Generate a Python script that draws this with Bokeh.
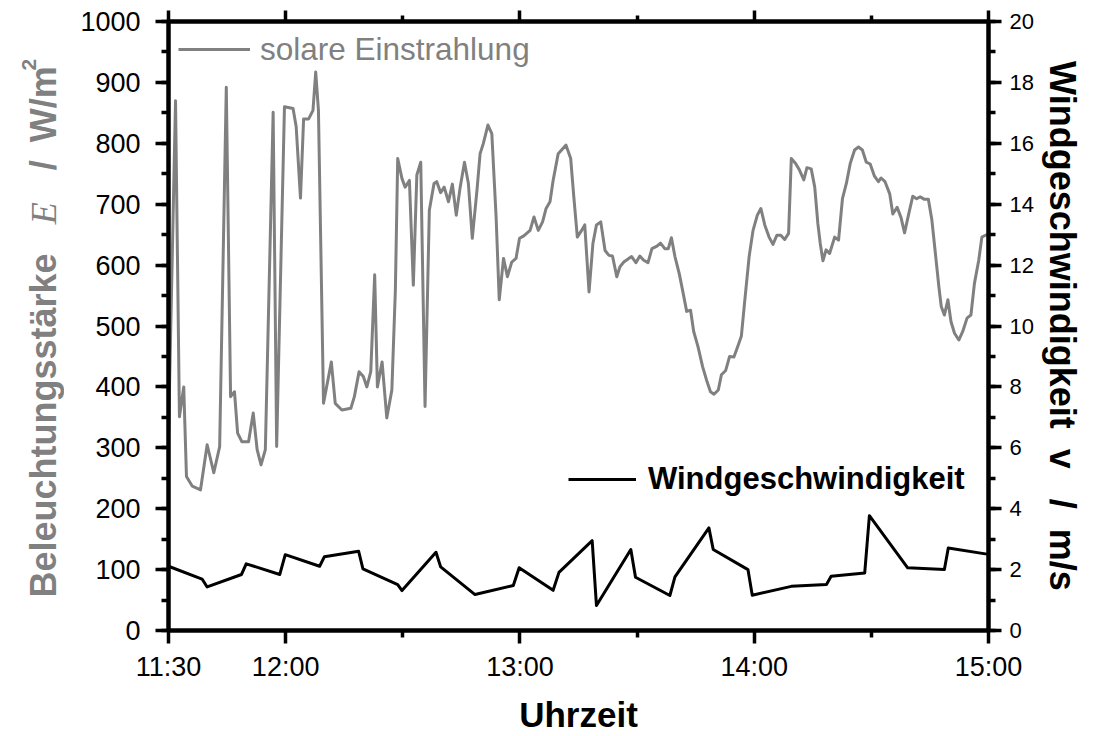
import math
from bokeh.plotting import figure
from bokeh.layouts import row
from bokeh.models import (Range1d, LinearAxis, FixedTicker, SingleIntervalTicker,
                          Legend, LegendItem)
from bokeh.core.properties import value
from bokeh.embed import file_html
from bokeh.resources import INLINE

# ---------------- data ----------------
# minutes after 11:30
solar_minutes = [0, 1.8, 2.8, 3.9, 4.6, 6.1, 8.2, 9.9, 11.6, 13.1, 14.8, 15.9, 16.9, 17.7,
                 18.8, 20.5, 21.7, 22.7, 23.7, 24.8, 26.8, 27.7, 29.7, 31.9, 32.7, 33.8,
                 34.6, 35.9, 37.0, 37.7, 38.4, 39.7, 41.7, 42.7, 44.4, 46.7, 47.6, 48.8,
                 49.9, 50.8, 51.8, 52.8, 53.5, 54.7, 55.9, 57.2, 58.1, 58.7, 59.8, 60.6,
                 61.7, 62.7, 63.6, 64.6, 65.7, 66.8, 68.0, 68.7, 69.7, 70.6, 71.7, 72.7,
                 73.7, 74.7, 75.8, 76.8, 77.8, 79.0, 79.8, 80.6, 81.8, 82.8, 83.9, 84.7,
                 85.8, 86.8, 87.9, 89.0, 89.9, 91.0, 92.6, 93.6, 94.7, 95.8, 96.7, 97.7,
                 98.5, 99.8, 101.8, 103.0, 103.8, 104.7, 105.8, 106.6, 107.7, 108.7, 109.6,
                 110.7, 111.8, 112.8, 113.7, 114.8, 115.6, 116.6, 118.6, 119.7, 120.7,
                 121.7, 122.8, 123.8, 125.1, 126.0, 127.1, 128.0, 128.8, 129.7, 130.8,
                 131.8, 132.7, 133.7, 134.5, 135.6, 136.8, 137.8, 138.8, 139.7, 140.8,
                 141.6, 142.7, 143.7, 144.8, 145.6, 146.7, 147.6, 148.7, 149.7, 150.8,
                 151.7, 152.7, 153.8, 154.8, 155.8, 156.8, 157.8, 158.8, 159.5, 160.6,
                 161.6, 162.7, 163.5, 164.6, 165.5, 166.3, 166.9, 167.6, 168.4, 169.3,
                 170.6, 171.6, 172.6, 173.6, 174.6, 175.7, 176.7, 177.7, 178.7, 179.7,
                 180.8, 181.8, 182.5, 183.5, 184.7, 185.5, 186.6, 187.6, 188.5, 189.5,
                 190.6, 191.6, 192.5, 193.6, 194.6, 195.5, 196.4, 197.3, 197.9, 198.7,
                 199.6, 200.4, 201.3, 202.4, 203.4, 204.5, 205.5, 206.4, 207.5, 208.3,
                 209.2, 210.0]
solar_values = [320, 870, 351, 400, 253, 237, 231, 305, 259, 302, 892, 384, 392, 324,
                310, 310, 357, 297, 272, 297, 851, 302, 860, 857, 827, 710,
                840, 840, 854, 917, 854, 373, 441, 373, 362, 365, 384, 425,
                417, 400, 425, 584, 400, 441, 349, 395, 559, 775, 742, 728,
                739, 567, 748, 769, 368, 690, 734, 737, 719, 728, 704, 733,
                682, 728, 769, 734, 644, 723, 783, 799, 830, 816, 679, 543,
                611, 581, 605, 611, 644, 648, 657, 679, 657, 671, 693, 704,
                739, 783, 797, 775, 712, 646, 657, 666, 556, 636, 666,
                671, 624, 616, 615, 581, 597, 605, 614, 604, 615,
                608, 604, 627, 631, 636, 627, 627, 645, 614, 586,
                554, 524, 526, 491, 466, 433, 411, 392, 388, 395,
                420, 427, 450, 449, 463, 483, 543, 614, 657, 682,
                693, 666, 646, 634, 649, 649, 642, 652, 775, 767,
                756, 740, 760, 758, 728, 668, 636, 607, 625, 619,
                646, 641, 709, 734, 767, 789, 794, 789, 769, 766,
                746, 737, 743, 737, 717, 684, 695, 678, 653, 682,
                713, 709, 712, 708, 708, 674, 619, 564, 532, 518,
                543, 507, 488, 477, 491, 513, 518, 570, 608, 646,
                649, 650]

wind_minutes = [0, 8.6, 9.9, 18.7, 19.9, 28.5, 29.9, 38.7, 39.9, 48.7, 49.8, 58.7, 59.8,
                68.5, 69.7, 78.5, 88.3, 89.8, 98.5, 100.0, 108.5, 109.6, 118.4, 119.6,
                128.4, 129.7, 138.4, 139.5, 148.4, 149.5, 159.5, 168.5, 169.7, 178.3,
                179.5, 189.3, 198.7, 199.7, 210.0]
wind_values = [2.11, 1.69, 1.43, 1.84, 2.19, 1.84, 2.49, 2.11, 2.42, 2.60, 2.02, 1.51, 1.31,
               2.57, 2.09, 1.18, 1.48, 2.06, 1.32, 1.91, 2.95, 0.82, 2.66, 1.75,
               1.15, 1.76, 3.37, 2.66, 2.00, 1.16, 1.45, 1.51, 1.78, 1.89,
               3.77, 2.06, 2.00, 2.71, 2.50]

time_tick_minutes = [0, 30, 90, 150, 210]
time_tick_labels = ["11:30", "12:00", "13:00", "14:00", "15:00"]
time_minor_minutes = [60, 120, 180]

# left axis title pieces (mixed styles)
title_pieces = ["Beleuchtungsstärke", "E", "/", "W/m", "2"]

# ---------------- styling ----------------
GREY = "#808080"
FONT = "Liberation Sans"
H = 736
LEFT_W = 64
MAIN_W = 1035
FRAME_TOP = 21
FRAME_BOTTOM = 631

# ---- narrow figure that only carries the left axis title ----
# its frame is aligned with the main frame (rows align frames), so the
# y range maps 0 -> frame bottom, (FRAME_BOTTOM-FRAME_TOP) -> frame top
t = figure(width=LEFT_W, height=H, output_backend="svg", toolbar_location=None,
           x_range=Range1d(0, LEFT_W), y_range=Range1d(0, FRAME_BOTTOM - FRAME_TOP),
           x_axis_location=None, y_axis_location=None,
           min_border_left=0, min_border_right=0,
           min_border_top=FRAME_TOP, min_border_bottom=H - FRAME_BOTTOM)
t.outline_line_color = None
t.background_fill_color = "white"
t.border_fill_color = "white"
for g in t.grid:
    g.visible = False

# (x center, start position measured from page top, font, style, size)
piece_layout = [
    (43, 598, FONT, "bold", "36px"),
    (43, 224, "Liberation Serif", "italic", "36px"),
    (43, 170, FONT, "bold", "36px"),
    (43, 142, FONT, "bold", "36px"),
    (28, 70, FONT, "bold", "21px"),
]
for txt, (cx, top_y, fnt, sty, size) in zip(title_pieces, piece_layout):
    t.text(x=[cx], y=[FRAME_BOTTOM - top_y], text=[txt], angle=math.pi / 2,
           text_align="left", text_baseline="middle",
           text_font=value(fnt), text_font_style=sty,
           text_font_size=value(size), text_color=GREY)

# ---- main figure ----
p = figure(width=MAIN_W, height=H, output_backend="svg", toolbar_location=None,
           x_range=Range1d(0, 210), y_range=Range1d(0, 1000),
           x_axis_location=None, y_axis_location=None,
           min_border_left=168 - LEFT_W, min_border_right=MAIN_W - (988 - LEFT_W),
           min_border_top=FRAME_TOP, min_border_bottom=H - FRAME_BOTTOM)
p.extra_y_ranges = {"wind": Range1d(0, 20)}
p.outline_line_color = None
p.background_fill_color = "white"
p.border_fill_color = "white"
for g in p.grid:
    g.visible = False

grey_line = p.line(solar_minutes, solar_values, line_color=GREY, line_width=3,
                   line_join="round")
wind_line = p.line(wind_minutes, wind_values, line_color="black", line_width=3,
                   line_join="round", y_range_name="wind")


def style_axis(ax, size):
    ax.axis_line_width = 4.5
    ax.axis_line_color = "black"
    ax.major_tick_line_width = 3.5
    ax.minor_tick_line_width = 3.5
    ax.major_tick_line_color = "black"
    ax.minor_tick_line_color = "black"
    ax.major_tick_in = 0
    ax.major_tick_out = 13
    ax.minor_tick_in = 0
    ax.minor_tick_out = 7
    ax.major_label_text_font = FONT
    ax.major_label_text_font_size = size
    ax.major_label_text_color = "black"


time_ticker = FixedTicker(ticks=time_tick_minutes, minor_ticks=time_minor_minutes)

xb = LinearAxis(ticker=time_ticker,
                major_label_overrides=dict(zip(time_tick_minutes, time_tick_labels)),
                axis_label="Uhrzeit")
style_axis(xb, "27px")
xb.major_label_standoff = 8
xb.axis_label_text_font = FONT
xb.axis_label_text_font_style = "bold"
xb.axis_label_text_font_size = "35px"
xb.axis_label_text_color = "black"
xb.axis_label_standoff = 10
p.add_layout(xb, "below")

xt = LinearAxis(ticker=time_ticker,
                major_label_overrides={m: "" for m in time_tick_minutes})
style_axis(xt, "1px")
xt.major_tick_out = 11
xt.minor_tick_out = 6
xt.major_label_standoff = 0
p.add_layout(xt, "above")

yl = LinearAxis(ticker=SingleIntervalTicker(interval=100, num_minor_ticks=2))
style_axis(yl, "27px")
yl.major_label_standoff = 15
p.add_layout(yl, "left")

yr = LinearAxis(y_range_name="wind",
                ticker=SingleIntervalTicker(interval=2, num_minor_ticks=2),
                axis_label="Windgeschwindigkeit\u00a0\u00a0v\u00a0\u00a0\u00a0/\u00a0\u00a0m/s")
style_axis(yr, "22px")
yr.major_label_standoff = 8
yr.axis_label_text_font = FONT
yr.axis_label_text_font_style = "bold"
yr.axis_label_text_font_size = "36px"
yr.axis_label_text_color = "black"
yr.axis_label_standoff = 5
p.add_layout(yr, "right")

# legends
leg1 = Legend(items=[LegendItem(label="solare Einstrahlung", renderers=[grey_line])],
              location=(10, 562), padding=0, margin=0, spacing=0,
              glyph_width=72, glyph_height=38, label_height=38, label_standoff=10,
              label_text_font=FONT, label_text_font_size="31.5px",
              label_text_color=GREY, background_fill_alpha=0, border_line_color=None)
leg2 = Legend(items=[LegendItem(label="Windgeschwindigkeit", renderers=[wind_line])],
              location=(400, 132), padding=0, margin=0, spacing=0,
              glyph_width=68, glyph_height=38, label_height=38, label_standoff=12,
              label_text_font=FONT, label_text_font_size="31px",
              label_text_font_style="bold",
              label_text_color="black", background_fill_alpha=0, border_line_color=None)
p.add_layout(leg1)
p.add_layout(leg2)

layout = row(t, p, spacing=0)
open("out.html", "w").write(file_html(layout, INLINE))
